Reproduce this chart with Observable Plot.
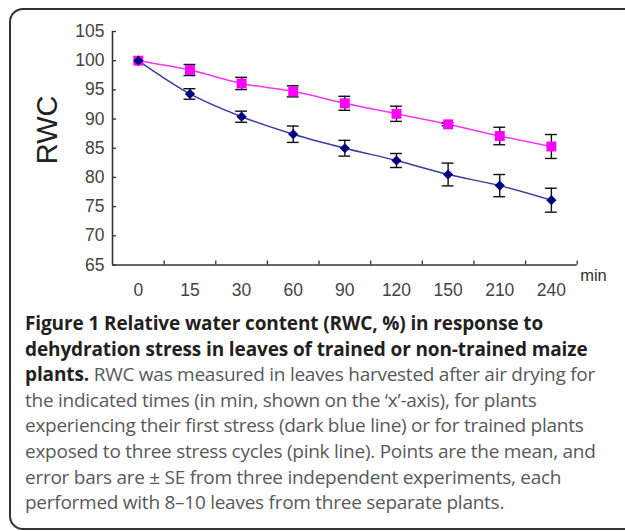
<!DOCTYPE html>
<html><head><meta charset="utf-8">
<script src="https://cdn.jsdelivr.net/npm/d3@7"></script>
<script src="https://cdn.jsdelivr.net/npm/@observablehq/plot@0.6"></script>
<style>
body{margin:0;background:#fff;width:625px;height:531px;overflow:hidden;position:relative;}
#box{position:absolute;left:9px;top:8px;width:720px;height:522px;border:2px solid #333;border-radius:14px;box-sizing:border-box;}
#chart{position:absolute;left:0;top:0;}
#cap{position:absolute;left:25px;top:311px;font-family:"Open Sans",sans-serif;font-size:19px;line-height:25.6px;color:#58595b;white-space:nowrap;letter-spacing:-0.26px;}
#cap b{color:#231f20;font-weight:700;letter-spacing:-0.12px;}
</style></head>
<body>
<div id="box"></div>
<div id="chart"></div>
<div id="cap">
<div><b>Figure 1 Relative water content (RWC, %) in response to</b></div>
<div><b>dehydration stress in leaves of trained or non-trained maize</b></div>
<div><b>plants.</b> RWC was measured in leaves harvested after air drying for</div>
<div>the indicated times (in min, shown on the ‘x’-axis), for plants</div>
<div>experiencing their first stress (dark blue line) or for trained plants</div>
<div>exposed to three stress cycles (pink line). Points are the mean, and</div>
<div>error bars are ± SE from three independent experiments, each</div>
<div>performed with 8–10 leaves from three separate plants.</div>
</div>
<script>
const times = ["0","15","30","60","90","120","150","210","240"];
const firstStress = [100, 94.3, 90.4, 87.4, 85.0, 82.9, 80.5, 78.6, 76.1];
const firstSE     = [0, 0.9, 0.95, 1.4, 1.35, 1.2, 1.95, 1.9, 2.05];
const trained     = [100, 98.4, 96.1, 94.75, 92.7, 90.9, 89.1, 87.1, 85.3];
const trainedSE   = [0, 0.95, 1.05, 0.95, 1.2, 1.3, 0.25, 1.5, 2.05];
const yTicks = [65,70,75,80,85,90,95,100,105];

const rows = [];
times.forEach((t, i) => {
  rows.push({series: "first", i, t, v: firstStress[i], se: firstSE[i]});
  rows.push({series: "trained", i, t, v: trained[i], se: trainedSE[i]});
});
const first = rows.filter(d => d.series === "first");
const train = rows.filter(d => d.series === "trained");
const cap = 0.115;
const withSE = rows.filter(d => d.se > 0);

const chart = Plot.plot({
  width: 625, height: 310,
  marginLeft: 112, marginRight: 48.3, marginTop: 31, marginBottom: 45.5,
  style: {background: "transparent", overflow: "visible"},
  x: {domain: [-0.5, times.length - 0.5]},
  y: {domain: [65, 105]},
  marks: [
    Plot.axisY({ticks: yTicks, tickSize: -4, tickPadding: 12, label: null, fontSize: 17.5, fontFamily: "Liberation Sans", color: "#444", stroke: "#333", strokeWidth: 1.3}),
    Plot.axisX({ticks: d3.range(0.5, times.length, 1), tickSize: -4, tickFormat: () => "", label: null, stroke: "#333", strokeWidth: 1.3}),
    Plot.axisX({ticks: d3.range(times.length), tickSize: 0, tickPadding: 19, tickFormat: i => times[i], label: null, fontSize: 17.5, fontFamily: "Liberation Sans", color: "#444"}),
    Plot.ruleY([65], {stroke: "#333", strokeWidth: 1.6}),
    Plot.ruleX([-0.5], {stroke: "#333", strokeWidth: 1.6}),
    Plot.line(first, {x: "i", y: "v", stroke: "#3a3aa6", strokeWidth: 1.4, curve: "catmull-rom"}),
    Plot.line(train, {x: "i", y: "v", stroke: "#ff33ff", strokeWidth: 1.5, curve: "catmull-rom"}),
    Plot.ruleX(withSE, {x: "i", y1: d => d.v - d.se, y2: d => d.v + d.se, stroke: "#111", strokeWidth: 1.4}),
    Plot.ruleY(withSE, {y: d => d.v - d.se, x1: d => d.i - cap, x2: d => d.i + cap, stroke: "#111", strokeWidth: 1.4}),
    Plot.ruleY(withSE, {y: d => d.v + d.se, x1: d => d.i - cap, x2: d => d.i + cap, stroke: "#111", strokeWidth: 1.4}),
    Plot.dot(train, {x: "i", y: "v", symbol: "square", r: 5.6, fill: "#ff00ff", stroke: "none"}),
    Plot.dot(first, {x: "i", y: "v", symbol: "diamond2", r: 4.6, fill: "#000080", stroke: "none"}),
    Plot.text(["RWC"], {frameAnchor: "left", dx: -65, dy: 16, rotate: -90, fontSize: 29, fontFamily: "Liberation Sans", fill: "#222"}),
    Plot.text(["min"], {frameAnchor: "bottom-right", dx: 3, dy: 15.5, textAnchor: "start", fontSize: 16.5, fontFamily: "Liberation Sans", fill: "#333"})
  ]
});
document.getElementById("chart").append(chart);
</script>
</body></html>
